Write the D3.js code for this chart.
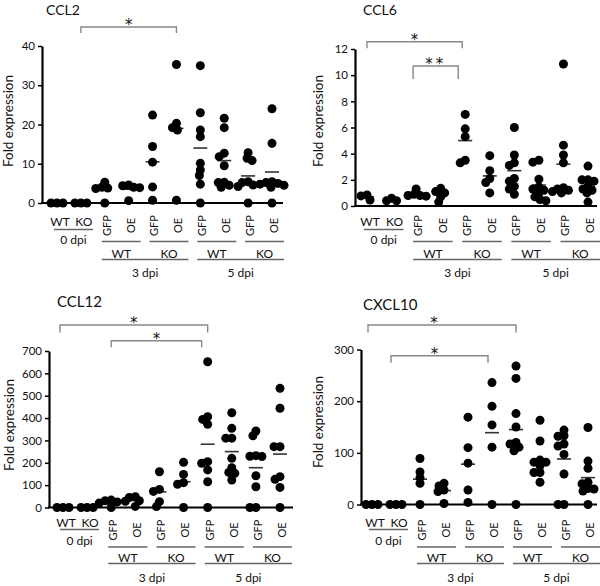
<!DOCTYPE html>
<html><head><meta charset="utf-8">
<script src="https://cdn.jsdelivr.net/npm/d3@7"></script>
<style>
body{margin:0;background:#fff}
svg{display:block}
text{font-family:Lato,"Open Sans",sans-serif;fill:#111}
</style>
</head><body>
<svg id="c" width="600" height="586"></svg>
<script>
// ---------- DATA ----------
const groups = ["WT 0dpi","KO 0dpi","WT GFP 3dpi","WT OE 3dpi","KO GFP 3dpi","KO OE 3dpi","WT GFP 5dpi","WT OE 5dpi","KO GFP 5dpi","KO OE 5dpi"];
const zeroDpiLabels = ["WT","KO"];
const conditionLabels = ["GFP","OE"];
const genotypeLabels = ["WT","KO"];
const dpiLabels = ["0 dpi","3 dpi","5 dpi"];

const ccl2Values = [[0,0,0],[0,0,0],[5.3,4.0,3.8,3.7,0],[4.6,4.4,4.0,3.9,0.6],[22.4,14.4,10.4,4.1,0.7],[35.3,20.3,19.2,18.6,0.7],[35,23,18.6,16.9,10.1,8.4,7,4.8,0],[21.6,19.2,12.7,11.8,9.5,5.3,5.2,4.5,4.0],[12.8,11.4,10.8,5.4,5.2,4.6,4.2,0],[24,15.2,5.4,5.2,5.0,4.8,4.5,4.0,0]];
const ccl2Means = [0,0,3.4,3.5,10.5,19,14,10.8,6.9,7.9];
const ccl2Ticks = [0,10,20,30,40];
const ccl2Brackets = [{from:1,to:5,label:"*"}];

const ccl6Values = [[0.84,0.77,0.46],[0.6,0.4,0.4],[1.3,0.9,0.8,0.8,0.75],[1.35,1.1,1.0,0.7,0.3],[7.0,5.9,5.3,3.5,3.3],[3.85,2.7,2.1,1.8,1.0],[6.0,3.9,3.3,3.1,2.1,1.9,1.5,1.3,0.9],[3.5,3.35,2.05,1.45,1.3,1.2,1.0,0.7,0.5,0.4],[10.85,4.65,3.9,3.3,1.4,1.3,1.2,1.1,1.0],[3.05,2.0,2.0,1.9,1.5,1.3,1.2,1.0,0.3]];
const ccl6Means = [0.7,0.5,0.9,0.9,5.0,2.3,2.7,1.6,3.2,1.5];
const ccl6Ticks = [0,2,4,6,8,10,12];
const ccl6Brackets = [{from:0,to:4,label:"*"},{from:2,to:4,label:"**"}];

const ccl12Values = [[0,0,0],[0,0,0],[33,30,25,20,0],[48,45,30,28,5],[160,81,72,26,4],[202,148,111,104,0],[652,406,394,372,205,198,168,115,0],[424,354,310,310,220,178,157,153,123],[342,321,232,229,228,142,93,0,0],[533,444,272,272,138,126,90,0]];
const ccl12Means = [0,0,22,31,70,115,283,250,178,239];
const ccl12Ticks = [0,100,200,300,400,500,600,700];
const ccl12Brackets = [{from:0,to:6,label:"*"},{from:2,to:6,label:"*"}];

const cxcl10Values = [[0,0,0],[0,0,0],[89,63,52,41,0],[41,36,28,25,2],[169,110,80,28,4],[236,190,154,111,0],[268,244,176,150,120,117,111,104,0],[163,123,86,82,82,75,62,62,43],[144,133,132,117,113,97,59,0,0],[149,84,70,43,40,31,30,26,0]];
const cxcl10Means = [0,0,49,27,78,139,145,86,88,52];
const cxcl10Ticks = [0,100,200,300];
const cxcl10Brackets = [{from:0,to:6,label:"*"},{from:1,to:5,label:"*"}];

// ---------- LAYOUT ----------
const topRow = {wtko:222, ul0:229.5, dpi0:239.5, cond:225.5, ul1:241.5, geno:254, ul2:259.5, dpi:273};
const botRow = {wtko:523, ul0:529.5, dpi0:541, cond:530, ul1:547, geno:558, ul2:563.5, dpi:578};

const panels = [
  {name:"CCL2", values:ccl2Values, means:ccl2Means, ticks:ccl2Ticks, brackets:ccl2Brackets,
   L:{axisX:42, axisEnd:283, y0:203, yTop:46, xFirst:57, xLast:272, titleX:46, titleY:14.5, titleSize:14, ylabX:8, ylabY:121,
      row:topRow, br:[{top:27, drop:6, ins:[0,0], dx:0}]}},
  {name:"CCL6", values:ccl6Values, means:ccl6Means, ticks:ccl6Ticks, brackets:ccl6Brackets,
   L:{axisX:355, axisEnd:597, y0:206, yTop:49, xFirst:367, xLast:588, titleX:363, titleY:14.5, titleSize:14, ylabX:318, ylabY:121,
      row:topRow, br:[{top:41.7, drop:6.5, ins:[0,-3], dx:0},{top:66, drop:13, ins:[-3,-7], dx:0}]}},
  {name:"CCL12", values:ccl12Values, means:ccl12Means, ticks:ccl12Ticks, brackets:ccl12Brackets,
   L:{axisX:49, axisEnd:293, y0:507.5, yTop:351, xFirst:63, xLast:280, titleX:57, titleY:307, titleSize:15, ylabX:9, ylabY:425,
      row:botRow, br:[{top:325, drop:7.5, ins:[-3,0], dx:0},{top:340.7, drop:6.5, ins:[0,-6], dx:0}]}},
  {name:"CXCL10", values:cxcl10Values, means:cxcl10Means, ticks:cxcl10Ticks, brackets:cxcl10Brackets,
   L:{axisX:361, axisEnd:597, y0:504.5, yTop:349.5, xFirst:372, xLast:588, titleX:363, titleY:310, titleSize:15, ylabX:318, ylabY:422,
      row:botRow, br:[{top:325, drop:7.5, ins:[-4,0], dx:-8},{top:355.7, drop:7, ins:[-5,-4], dx:-5}]}}
];

const svg = d3.select("#c");
const R = 4.5;

function swarm(vals, y, cx, minD) {
  const placed = [];
  vals.forEach(v => {
    const py = y(v);
    let dx = 0;
    for (let k = 0; k < 60; k++) {
      const cand = k === 0 ? 0 : (k % 2 ? -Math.ceil(k/2) : Math.ceil(k/2));
      const ok = placed.every(p => (p.dx-cand)*(p.dx-cand) + (p.y-py)*(p.y-py) >= minD*minD);
      if (ok) { dx = cand; break; }
    }
    placed.push({dx, y:py});
  });
  return placed.map(p => ({x: cx + p.dx, y: p.y}));
}

function drawPanel(p) {
  const L = p.L;
  const x = d3.scalePoint().domain(groups).range([L.xFirst, L.xLast]);
  const y = d3.scaleLinear().domain([0, d3.max(p.ticks)]).range([L.y0, L.yTop]);
  const g = svg.append("g");

  g.append("text").attr("x", L.titleX).attr("y", L.titleY).attr("font-size", L.titleSize).text(p.name);
  g.append("text").attr("transform", `translate(${L.ylabX},${L.ylabY}) rotate(-90)`)
    .attr("text-anchor","middle").attr("dy","0.35em").attr("font-size",13.5).text("Fold expression");

  const ax = g.append("g").attr("transform", `translate(${L.axisX},0)`)
    .call(d3.axisLeft(y).tickValues(p.ticks).tickSize(4).tickSizeOuter(0).tickPadding(3));
  ax.attr("font-family", "Lato, sans-serif").attr("font-size", 11.5);
  ax.select(".domain").attr("stroke","#000").attr("stroke-width",2.2);
  ax.selectAll(".tick line").attr("stroke","#000").attr("stroke-width",1.5);
  ax.selectAll(".tick text").attr("fill","#111");

  g.append("line").attr("x1", L.axisX-1).attr("x2", L.axisEnd).attr("y1", y(0)).attr("y2", y(0))
    .attr("stroke","#000").attr("stroke-width",2.2);

  groups.forEach((gr, i) => {
    g.append("line").attr("x1", x(gr)-7).attr("x2", x(gr)+7)
      .attr("y1", y(p.means[i])).attr("y2", y(p.means[i]))
      .attr("stroke","#333").attr("stroke-width",1.6);
  });
  groups.forEach((gr, i) => {
    const pts = swarm(p.values[i], y, x(gr), 5.5);
    g.selectAll(null).data(pts).enter().append("circle")
      .attr("cx", d => d.x).attr("cy", d => d.y).attr("r", R).attr("fill","#000");
  });

  p.brackets.forEach((b, j) => {
    const s = L.br[j];
    const x1 = x(groups[b.from]) + s.ins[0], x2 = x(groups[b.to]) + s.ins[1];
    g.append("path").attr("d", `M${x1},${s.top+s.drop}V${s.top}H${x2}V${s.top+s.drop}`)
      .attr("fill","none").attr("stroke","#888").attr("stroke-width",1.4);
    g.append("text").attr("x", (x1+x2)/2 + s.dx).attr("y", s.top + 3)
      .attr("text-anchor","middle").attr("font-size",15).style("font-family","'DejaVu Sans',sans-serif")
      .attr("letter-spacing", b.label.length>1?3:0)
      .text(b.label);
  });

  const row = L.row;
  const ulStyle = sel => sel.attr("stroke","#666").attr("stroke-width",1.3);
  [0,1].forEach(k => {
    g.append("text").attr("x", x(groups[k])+3).attr("y", row.wtko).attr("dy","0.35em")
      .attr("text-anchor","middle").attr("font-size",12).text(zeroDpiLabels[k]);
  });
  const z1 = x(groups[0]) - 3, z2 = x(groups[1]) + 12;
  ulStyle(g.append("line").attr("x1", z1).attr("x2", z2).attr("y1", row.ul0).attr("y2", row.ul0));
  g.append("text").attr("x", (z1+z2)/2).attr("y", row.dpi0).attr("dy","0.35em")
    .attr("text-anchor","middle").attr("font-size",12).text(dpiLabels[0]);

  [0,1].forEach(d => {
    const pairEnds = [];
    [0,1].forEach(gt => {
      const iG = 2 + d*4 + gt*2, iO = iG + 1;
      [iG, iO].forEach((ii, c) => {
        g.append("text").attr("transform", `translate(${x(groups[ii])+2},${row.cond}) rotate(-90)`)
          .attr("text-anchor","middle").attr("dy","0.35em").attr("font-size",11).text(conditionLabels[c]);
      });
      const a = x(groups[iG]) - 3, b = x(groups[iO]) + 12;
      pairEnds.push([a,b]);
      ulStyle(g.append("line").attr("x1", a).attr("x2", b).attr("y1", row.ul1).attr("y2", row.ul1));
      g.append("text").attr("x", (a+b)/2).attr("y", row.geno).attr("dy","0.35em")
        .attr("text-anchor","middle").attr("font-size",12).text(genotypeLabels[gt]);
    });
    const a = pairEnds[0][0], b = pairEnds[1][1];
    ulStyle(g.append("line").attr("x1", a).attr("x2", b).attr("y1", row.ul2).attr("y2", row.ul2));
    g.append("text").attr("x", (a+b)/2).attr("y", row.dpi).attr("dy","0.35em")
      .attr("text-anchor","middle").attr("font-size",12).text(dpiLabels[d+1]);
  });
}

panels.forEach(drawPanel);
</script>
</body></html>
